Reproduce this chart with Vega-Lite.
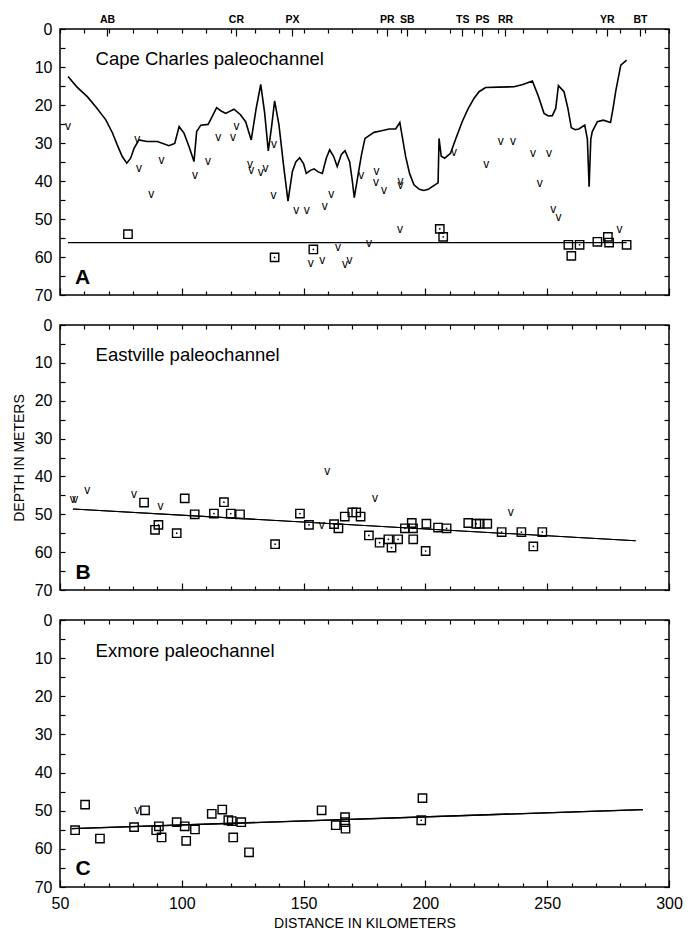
{
  "$schema": "https://vega.github.io/schema/vega-lite/v6.json",
  "background": "white",
  "padding": {"left": 11, "top": 10, "right": 5, "bottom": 0},
  "spacing": 12,
  "datasets": {
    "profileA": [
      {"km":53.3,"depth":12.5},{"km":57,"depth":15.3},{"km":61.2,"depth":17.8},{"km":65,"depth":20.7},{"km":68.8,"depth":23.9},
      {"km":71.5,"depth":27.3},{"km":73.5,"depth":30.5},{"km":75.5,"depth":33.5},{"km":77.4,"depth":35.3},{"km":79,"depth":34},
      {"km":80.4,"depth":31.4},{"km":82.4,"depth":29.2},{"km":85.8,"depth":29.6},{"km":90,"depth":29.6},{"km":94.7,"depth":30.7},
      {"km":97.1,"depth":30.1},{"km":98.9,"depth":25.7},{"km":100.9,"depth":27.4},{"km":103,"depth":31},{"km":105,"depth":34.9},
      {"km":106.1,"depth":27},{"km":107.8,"depth":25.3},{"km":110.8,"depth":25.1},{"km":112.5,"depth":23},{"km":114.3,"depth":20.7},
      {"km":116,"depth":21.5},{"km":118,"depth":22.2},{"km":121.4,"depth":21.1},{"km":124,"depth":22.5},{"km":126.2,"depth":24.4},
      {"km":128.5,"depth":29.2},{"km":130.5,"depth":21},{"km":132.4,"depth":14.6},{"km":134,"depth":22},{"km":135.5,"depth":32.1},
      {"km":136.8,"depth":26},{"km":138.1,"depth":18.9},{"km":139.9,"depth":25.3},{"km":141.8,"depth":36},{"km":143.6,"depth":45.3},
      {"km":145.4,"depth":37.5},{"km":146.8,"depth":35},{"km":148.4,"depth":33.9},{"km":150,"depth":35.5},{"km":151.1,"depth":38},
      {"km":152.8,"depth":37.2},{"km":154.3,"depth":36.8},{"km":156,"depth":37.6},{"km":157.7,"depth":38},{"km":159.3,"depth":34},
      {"km":160.7,"depth":31.8},{"km":162.3,"depth":33.5},{"km":163.8,"depth":36.2},{"km":165.5,"depth":33},{"km":167,"depth":32},
      {"km":168.9,"depth":34.9},{"km":170,"depth":40},{"km":170.8,"depth":44.4},{"km":172.7,"depth":37.1},{"km":173.8,"depth":33},
      {"km":175.2,"depth":28.8},{"km":178.9,"depth":27.2},{"km":182,"depth":26.8},{"km":185.1,"depth":26.3},{"km":187.8,"depth":26.3},
      {"km":189.5,"depth":24.6},{"km":191.9,"depth":33.6},{"km":193.5,"depth":38},{"km":195.3,"depth":41},{"km":197.5,"depth":42.2},
      {"km":199.4,"depth":42.5},{"km":201.2,"depth":42.2},{"km":202.8,"depth":41.5},{"km":205.2,"depth":40.5},{"km":205.6,"depth":28.8},
      {"km":206.5,"depth":33.5},{"km":207.9,"depth":34},{"km":210.3,"depth":32.7},{"km":212.7,"depth":28.5},{"km":215.1,"depth":24.4},
      {"km":217.5,"depth":21},{"km":220,"depth":18.2},{"km":222,"depth":16.5},{"km":224.7,"depth":15.4},{"km":230,"depth":15.3},
      {"km":236.4,"depth":15.2},{"km":240,"depth":14.6},{"km":243.9,"depth":13.7},{"km":246.2,"depth":17.4},{"km":248.7,"depth":22.2},
      {"km":250.5,"depth":22.9},{"km":252.1,"depth":22.8},{"km":253.5,"depth":20.9},{"km":254.6,"depth":14.9},{"km":256.9,"depth":16.5},
      {"km":258.5,"depth":20.9},{"km":259.9,"depth":26},{"km":261.5,"depth":26.5},{"km":263,"depth":26.3},{"km":265.4,"depth":25.3},
      {"km":266.5,"depth":29},{"km":267.2,"depth":41.5},{"km":267.9,"depth":29},{"km":268.5,"depth":27},{"km":270.6,"depth":24.4},
      {"km":273,"depth":24},{"km":276,"depth":24.6},{"km":277,"depth":21},{"km":278.1,"depth":16.5},{"km":280.2,"depth":9.5},
      {"km":282.6,"depth":8.2}
    ],
    "markers": [
      {"panel":"A","kind":"v","km":53.3,"depth":25.4},{"panel":"A","kind":"v","km":81.7,"depth":29},{"panel":"A","kind":"v","km":82.4,"depth":36.5},
      {"panel":"A","kind":"v","km":87.5,"depth":43.5},{"panel":"A","kind":"v","km":91.7,"depth":34.5},{"panel":"A","kind":"v","km":105.4,"depth":38.4},
      {"panel":"A","kind":"v","km":110.8,"depth":34.7},{"panel":"A","kind":"v","km":115,"depth":28.3},{"panel":"A","kind":"v","km":121,"depth":28.3},
      {"panel":"A","kind":"v","km":122.5,"depth":25.4},{"panel":"A","kind":"v","km":128,"depth":35.6},{"panel":"A","kind":"v","km":128.5,"depth":37},
      {"panel":"A","kind":"v","km":132.4,"depth":37.5},{"panel":"A","kind":"v","km":134.4,"depth":36.7},{"panel":"A","kind":"v","km":137.8,"depth":30.3},
      {"panel":"A","kind":"v","km":137.6,"depth":43.7},{"panel":"A","kind":"v","km":147,"depth":47.6},{"panel":"A","kind":"v","km":151.3,"depth":47.6},
      {"panel":"A","kind":"v","km":158.7,"depth":46.6},{"panel":"A","kind":"v","km":161.4,"depth":43.5},{"panel":"A","kind":"v","km":152.9,"depth":61.7},
      {"panel":"A","kind":"v","km":157.7,"depth":60.8},{"panel":"A","kind":"v","km":164.1,"depth":57.3},{"panel":"A","kind":"v","km":167,"depth":61.9},
      {"panel":"A","kind":"v","km":168.8,"depth":60.8},{"panel":"A","kind":"v","km":173.7,"depth":38.4},{"panel":"A","kind":"v","km":176.8,"depth":56.4},
      {"panel":"A","kind":"v","km":179.9,"depth":37.4},{"panel":"A","kind":"v","km":179.7,"depth":40.3},{"panel":"A","kind":"v","km":183,"depth":42.4},
      {"panel":"A","kind":"v","km":189.8,"depth":41},{"panel":"A","kind":"v","km":189.8,"depth":40},{"panel":"A","kind":"v","km":189.6,"depth":52.5},
      {"panel":"A","kind":"v","km":211.7,"depth":32.3},{"panel":"A","kind":"v","km":225,"depth":35.6},{"panel":"A","kind":"v","km":230.9,"depth":29.5},
      {"panel":"A","kind":"v","km":236,"depth":29.5},{"panel":"A","kind":"v","km":244.2,"depth":32.5},{"panel":"A","kind":"v","km":250.7,"depth":32.5},
      {"panel":"A","kind":"v","km":246.9,"depth":40.6},{"panel":"A","kind":"v","km":252.5,"depth":47.4},{"panel":"A","kind":"v","km":254.6,"depth":49.6},
      {"panel":"A","kind":"v","km":279.7,"depth":52.5},
      {"panel":"A","kind":"sq","dot":0,"km":77.9,"depth":54},{"panel":"A","kind":"sq","dot":1,"km":138.1,"depth":60.1},{"panel":"A","kind":"sq","dot":1,"km":154,"depth":58},
      {"panel":"A","kind":"sq","dot":1,"km":205.9,"depth":52.6},{"panel":"A","kind":"sq","dot":1,"km":207.3,"depth":54.7},{"panel":"A","kind":"sq","dot":0,"km":258.7,"depth":56.8},
      {"panel":"A","kind":"sq","dot":0,"km":259.9,"depth":59.7},{"panel":"A","kind":"sq","dot":1,"km":263.3,"depth":56.8},{"panel":"A","kind":"sq","dot":0,"km":270.6,"depth":56},
      {"panel":"A","kind":"sq","dot":0,"km":274.9,"depth":54.7},{"panel":"A","kind":"sq","dot":0,"km":275.4,"depth":56.2},{"panel":"A","kind":"sq","dot":0,"km":282.6,"depth":56.8},
      {"panel":"B","kind":"v","km":55.2,"depth":46},{"panel":"B","kind":"v","km":56.3,"depth":46},{"panel":"B","kind":"v","km":61.2,"depth":43.7},
      {"panel":"B","kind":"v","km":80.4,"depth":44.6},{"panel":"B","kind":"v","km":91.3,"depth":47.7},{"panel":"B","kind":"v","km":159.7,"depth":38.5},
      {"panel":"B","kind":"v","km":157.5,"depth":52.7},{"panel":"B","kind":"v","km":179.3,"depth":45.7},{"panel":"B","kind":"v","km":235,"depth":49.3},
      {"panel":"B","kind":"sq","dot":0,"km":84.5,"depth":46.9},{"panel":"B","kind":"sq","dot":1,"km":90.4,"depth":52.8},{"panel":"B","kind":"sq","dot":0,"km":89,"depth":54.1},
      {"panel":"B","kind":"sq","dot":1,"km":97.9,"depth":55},{"panel":"B","kind":"sq","dot":0,"km":101.2,"depth":45.8},{"panel":"B","kind":"sq","dot":0,"km":105.3,"depth":50},
      {"panel":"B","kind":"sq","dot":1,"km":113.2,"depth":49.8},{"panel":"B","kind":"sq","dot":1,"km":117.3,"depth":46.8},{"panel":"B","kind":"sq","dot":1,"km":120.1,"depth":49.8},
      {"panel":"B","kind":"sq","dot":0,"km":123.9,"depth":50},{"panel":"B","kind":"sq","dot":1,"km":138.3,"depth":57.9},{"panel":"B","kind":"sq","dot":1,"km":148.5,"depth":49.8},
      {"panel":"B","kind":"sq","dot":1,"km":152.2,"depth":52.8},{"panel":"B","kind":"sq","dot":1,"km":162.5,"depth":52.6},{"panel":"B","kind":"sq","dot":0,"km":164.3,"depth":53.7},
      {"panel":"B","kind":"sq","dot":0,"km":166.9,"depth":50.6},{"panel":"B","kind":"sq","dot":0,"km":170,"depth":49.5},{"panel":"B","kind":"sq","dot":0,"km":171.6,"depth":49.5},
      {"panel":"B","kind":"sq","dot":0,"km":173.4,"depth":50.6},{"panel":"B","kind":"sq","dot":1,"km":176.8,"depth":55.6},{"panel":"B","kind":"sq","dot":1,"km":181.2,"depth":57.5},
      {"panel":"B","kind":"sq","dot":1,"km":184.8,"depth":56.6},{"panel":"B","kind":"sq","dot":1,"km":186.1,"depth":58.8},{"panel":"B","kind":"sq","dot":1,"km":188.8,"depth":56.6},
      {"panel":"B","kind":"sq","dot":1,"km":191.6,"depth":53.7},{"panel":"B","kind":"sq","dot":0,"km":194.4,"depth":52.3},{"panel":"B","kind":"sq","dot":1,"km":194.9,"depth":53.7},
      {"panel":"B","kind":"sq","dot":0,"km":195,"depth":56.6},{"panel":"B","kind":"sq","dot":1,"km":200.1,"depth":59.7},{"panel":"B","kind":"sq","dot":0,"km":200.4,"depth":52.5},
      {"panel":"B","kind":"sq","dot":0,"km":205.2,"depth":53.5},{"panel":"B","kind":"sq","dot":1,"km":208.7,"depth":53.7},{"panel":"B","kind":"sq","dot":0,"km":217.6,"depth":52.3},
      {"panel":"B","kind":"sq","dot":1,"km":220.9,"depth":52.5},{"panel":"B","kind":"sq","dot":0,"km":222.3,"depth":52.5},{"panel":"B","kind":"sq","dot":0,"km":225.4,"depth":52.5},
      {"panel":"B","kind":"sq","dot":1,"km":231.3,"depth":54.7},{"panel":"B","kind":"sq","dot":1,"km":239.4,"depth":54.7},{"panel":"B","kind":"sq","dot":1,"km":248,"depth":54.7},
      {"panel":"B","kind":"sq","dot":1,"km":244.3,"depth":58.5},
      {"panel":"C","kind":"v","km":81.7,"depth":49.9},
      {"panel":"C","kind":"sq","dot":0,"km":56.2,"depth":55.1},{"panel":"C","kind":"sq","dot":0,"km":60.3,"depth":48.4},{"panel":"C","kind":"sq","dot":0,"km":66.4,"depth":57.3},
      {"panel":"C","kind":"sq","dot":0,"km":80.4,"depth":54.3},{"panel":"C","kind":"sq","dot":0,"km":84.9,"depth":49.9},{"panel":"C","kind":"sq","dot":0,"km":89.5,"depth":55.1},
      {"panel":"C","kind":"sq","dot":1,"km":90.6,"depth":54.1},{"panel":"C","kind":"sq","dot":0,"km":91.7,"depth":57},{"panel":"C","kind":"sq","dot":0,"km":97.9,"depth":53},
      {"panel":"C","kind":"sq","dot":0,"km":101.2,"depth":54.1},{"panel":"C","kind":"sq","dot":0,"km":101.8,"depth":57.9},{"panel":"C","kind":"sq","dot":0,"km":105.4,"depth":54.9},
      {"panel":"C","kind":"sq","dot":0,"km":112.3,"depth":50.8},{"panel":"C","kind":"sq","dot":0,"km":116.6,"depth":49.7},{"panel":"C","kind":"sq","dot":0,"km":119.1,"depth":52.5},
      {"panel":"C","kind":"sq","dot":0,"km":120.5,"depth":52.7},{"panel":"C","kind":"sq","dot":0,"km":121.1,"depth":57},{"panel":"C","kind":"sq","dot":0,"km":124.4,"depth":53},
      {"panel":"C","kind":"sq","dot":0,"km":127.6,"depth":60.9},{"panel":"C","kind":"sq","dot":0,"km":157.4,"depth":49.9},{"panel":"C","kind":"sq","dot":0,"km":163.2,"depth":53.8},
      {"panel":"C","kind":"sq","dot":0,"km":167,"depth":51.7},{"panel":"C","kind":"sq","dot":0,"km":167,"depth":53},{"panel":"C","kind":"sq","dot":0,"km":167.2,"depth":54.7},
      {"panel":"C","kind":"sq","dot":0,"km":198.8,"depth":46.7},{"panel":"C","kind":"sq","dot":1,"km":198.3,"depth":52.5}
    ],
    "trends": [
      {"panel":"A","km":53.3,"depth":56.2},{"panel":"A","km":282.6,"depth":56.2},
      {"panel":"B","km":55.3,"depth":48.6},{"panel":"B","km":286.3,"depth":57.0},
      {"panel":"C","km":54.8,"depth":54.7},{"panel":"C","km":289.3,"depth":49.7}
    ],
    "names": [
      {"panel":"A","km":64.6,"depth":8,"text":"Cape Charles paleochannel"},
      {"panel":"B","km":64.6,"depth":8,"text":"Eastville paleochannel"},
      {"panel":"C","km":64.6,"depth":8,"text":"Exmore paleochannel"}
    ],
    "letters": [
      {"panel":"A","km":56.2,"depth":65.5,"text":"A"},
      {"panel":"B","km":56.4,"depth":65.4,"text":"B"},
      {"panel":"C","km":56.4,"depth":65.2,"text":"C"}
    ]
  },
  "vconcat": [
    {
      "width": 609, "height": 266,
      "resolve": {"axis": {"x": "independent", "y": "independent"}},
      "layer": [
        {"data": {"name": "profileA"}, "mark": {"type": "line", "color": "black", "strokeWidth": 1.6},
         "encoding": {
           "x": {"field": "km", "type": "quantitative", "scale": {"domain": [50, 300], "nice": false},
                 "axis": {"orient": "bottom", "values": [50,60,70,80,90,100,110,120,130,140,150,160,170,180,190,200,210,220,230,240,250,260,270,280,290,300], "labels": false, "title": null,
                          "tickSize": {"condition": {"test": "datum.value % 50 === 0", "value": -7}, "value": -4}}},
           "y": {"field": "depth", "type": "quantitative", "scale": {"domain": [0, 70], "reverse": true, "nice": false},
                 "axis": {"orient": "left", "values": [0,5,10,15,20,25,30,35,40,45,50,55,60,65,70], "labelExpr": "datum.value % 10 === 0 ? datum.label : ''",
                          "tickSize": -5, "labelPadding": 13, "labelOverlap": false, "labelFlush": false, "title": "DEPTH IN METERS", "titleOpacity": 0, "titlePadding": 8}}
         }},
        {"data": {"name": "trends"}, "transform": [{"filter": "datum.panel === 'A'"}],
         "mark": {"type": "line", "color": "black", "strokeWidth": 1.3},
         "encoding": {
           "x": {"field": "km", "type": "quantitative", "scale": {"domain": [50, 300], "nice": false},
                 "axis": {"orient": "top", "values": [50,60,70,80,90,100,110,120,130,140,150,160,170,180,190,200,210,220,230,240,250,260,270,280,290,300,69.3,122.2,145.2,184.2,192.4,215.1,223.2,232.7,274.5,288.1],
                          "labelExpr": "datum.value == 69.3 ? 'AB' : datum.value == 122.2 ? 'CR' : datum.value == 145.2 ? 'PX' : datum.value == 184.2 ? 'PR' : datum.value == 192.4 ? 'SB' : datum.value == 215.1 ? 'TS' : datum.value == 223.2 ? 'PS' : datum.value == 232.7 ? 'RR' : datum.value == 274.5 ? 'YR' : datum.value == 288.1 ? 'BT' : ''",
                          "labelFontSize": 10.5, "labelFontWeight": "bold", "labelPadding": 12, "labelOverlap": false, "labelFlush": false, "title": null,
                          "tickSize": {"condition": {"test": "datum.value % 10 !== 0", "value": -7}, "value": -4}}},
           "y": {"field": "depth", "type": "quantitative", "scale": {"domain": [0, 70], "reverse": true, "nice": false},
                 "axis": {"orient": "right", "values": [0,5,10,15,20,25,30,35,40,45,50,55,60,65,70], "labels": false, "tickSize": -5, "title": null}}
         }},
        {"data": {"name": "markers"}, "transform": [{"filter": "datum.panel === 'A' && datum.kind === 'v'"}],
         "mark": {"type": "text", "text": "v", "fontSize": 12, "color": "black", "baseline": "middle"},
         "encoding": {"x": {"field": "km", "type": "quantitative", "axis": null}, "y": {"field": "depth", "type": "quantitative", "axis": null}}},
        {"data": {"name": "markers"}, "transform": [{"filter": "datum.panel === 'A' && datum.kind === 'sq'"}],
         "mark": {"type": "point", "shape": "square", "size": 70, "filled": false, "color": "black", "strokeWidth": 1.4, "opacity": 1},
         "encoding": {"x": {"field": "km", "type": "quantitative", "axis": null}, "y": {"field": "depth", "type": "quantitative", "axis": null}}},
        {"data": {"name": "markers"}, "transform": [{"filter": "datum.panel === 'A' && datum.kind === 'sq' && datum.dot === 1"}],
         "mark": {"type": "point", "shape": "circle", "size": 3, "filled": true, "color": "black", "opacity": 1},
         "encoding": {"x": {"field": "km", "type": "quantitative", "axis": null}, "y": {"field": "depth", "type": "quantitative", "axis": null}}},
        {"data": {"name": "names"}, "transform": [{"filter": "datum.panel === 'A'"}],
         "mark": {"type": "text", "align": "left", "baseline": "middle", "fontSize": 18.5, "color": "black"},
         "encoding": {"x": {"field": "km", "type": "quantitative", "axis": null}, "y": {"field": "depth", "type": "quantitative", "axis": null}, "text": {"field": "text"}}},
        {"data": {"name": "letters"}, "transform": [{"filter": "datum.panel === 'A'"}],
         "mark": {"type": "text", "align": "left", "baseline": "middle", "fontSize": 21, "fontWeight": "bold", "color": "black"},
         "encoding": {"x": {"field": "km", "type": "quantitative", "axis": null}, "y": {"field": "depth", "type": "quantitative", "axis": null}, "text": {"field": "text"}}}
      ]
    },
    {
      "width": 609, "height": 265,
      "resolve": {"axis": {"x": "independent", "y": "independent"}},
      "layer": [
        {"data": {"name": "trends"}, "transform": [{"filter": "datum.panel === 'B'"}],
         "mark": {"type": "line", "color": "black", "strokeWidth": 1.1},
         "encoding": {
           "x": {"field": "km", "type": "quantitative", "scale": {"domain": [50, 300], "nice": false},
                 "axis": {"orient": "bottom", "values": [50,60,70,80,90,100,110,120,130,140,150,160,170,180,190,200,210,220,230,240,250,260,270,280,290,300], "labels": false, "title": null,
                          "tickSize": {"condition": {"test": "datum.value % 50 === 0", "value": -7}, "value": -4}}},
           "y": {"field": "depth", "type": "quantitative", "scale": {"domain": [0, 70], "reverse": true, "nice": false},
                 "axis": {"orient": "left", "values": [0,5,10,15,20,25,30,35,40,45,50,55,60,65,70], "labelExpr": "datum.value % 10 === 0 ? datum.label : ''",
                          "tickSize": -5, "labelPadding": 13, "labelOverlap": false, "labelFlush": false, "title": "DEPTH IN METERS", "titlePadding": 8}}
         }},
        {"data": {"name": "trends"}, "transform": [{"filter": "datum.panel === 'B'"}],
         "mark": {"type": "line", "color": "black", "strokeWidth": 1.1},
         "encoding": {
           "x": {"field": "km", "type": "quantitative", "scale": {"domain": [50, 300], "nice": false},
                 "axis": {"orient": "top", "values": [50,60,70,80,90,100,110,120,130,140,150,160,170,180,190,200,210,220,230,240,250,260,270,280,290,300], "labels": false, "title": null, "tickSize": -4}},
           "y": {"field": "depth", "type": "quantitative", "scale": {"domain": [0, 70], "reverse": true, "nice": false},
                 "axis": {"orient": "right", "values": [0,5,10,15,20,25,30,35,40,45,50,55,60,65,70], "labels": false, "tickSize": -5, "title": null}}
         }},
        {"data": {"name": "markers"}, "transform": [{"filter": "datum.panel === 'B' && datum.kind === 'v'"}],
         "mark": {"type": "text", "text": "v", "fontSize": 12, "color": "black", "baseline": "middle"},
         "encoding": {"x": {"field": "km", "type": "quantitative", "axis": null}, "y": {"field": "depth", "type": "quantitative", "axis": null}}},
        {"data": {"name": "markers"}, "transform": [{"filter": "datum.panel === 'B' && datum.kind === 'sq'"}],
         "mark": {"type": "point", "shape": "square", "size": 70, "filled": false, "color": "black", "strokeWidth": 1.4, "opacity": 1},
         "encoding": {"x": {"field": "km", "type": "quantitative", "axis": null}, "y": {"field": "depth", "type": "quantitative", "axis": null}}},
        {"data": {"name": "markers"}, "transform": [{"filter": "datum.panel === 'B' && datum.kind === 'sq' && datum.dot === 1"}],
         "mark": {"type": "point", "shape": "circle", "size": 3, "filled": true, "color": "black", "opacity": 1},
         "encoding": {"x": {"field": "km", "type": "quantitative", "axis": null}, "y": {"field": "depth", "type": "quantitative", "axis": null}}},
        {"data": {"name": "names"}, "transform": [{"filter": "datum.panel === 'B'"}],
         "mark": {"type": "text", "align": "left", "baseline": "middle", "fontSize": 18.5, "color": "black"},
         "encoding": {"x": {"field": "km", "type": "quantitative", "axis": null}, "y": {"field": "depth", "type": "quantitative", "axis": null}, "text": {"field": "text"}}},
        {"data": {"name": "letters"}, "transform": [{"filter": "datum.panel === 'B'"}],
         "mark": {"type": "text", "align": "left", "baseline": "middle", "fontSize": 21, "fontWeight": "bold", "color": "black"},
         "encoding": {"x": {"field": "km", "type": "quantitative", "axis": null}, "y": {"field": "depth", "type": "quantitative", "axis": null}, "text": {"field": "text"}}}
      ]
    },
    {
      "width": 609, "height": 267,
      "resolve": {"axis": {"x": "independent", "y": "independent"}},
      "layer": [
        {"data": {"name": "trends"}, "transform": [{"filter": "datum.panel === 'C'"}],
         "mark": {"type": "line", "color": "black", "strokeWidth": 1.3},
         "encoding": {
           "x": {"field": "km", "type": "quantitative", "scale": {"domain": [50, 300], "nice": false},
                 "axis": {"orient": "bottom", "values": [50,60,70,80,90,100,110,120,130,140,150,160,170,180,190,200,210,220,230,240,250,260,270,280,290,300],
                          "labelExpr": "datum.value % 50 === 0 ? datum.label : ''", "labelPadding": 15, "labelOverlap": false, "labelFlush": false,
                          "title": "DISTANCE IN KILOMETERS", "titlePadding": 2,
                          "tickSize": {"condition": {"test": "datum.value % 50 === 0", "value": -7}, "value": -4}}},
           "y": {"field": "depth", "type": "quantitative", "scale": {"domain": [0, 70], "reverse": true, "nice": false},
                 "axis": {"orient": "left", "values": [0,5,10,15,20,25,30,35,40,45,50,55,60,65,70], "labelExpr": "datum.value % 10 === 0 ? datum.label : ''",
                          "tickSize": -5, "labelPadding": 13, "labelOverlap": false, "labelFlush": false, "title": "DEPTH IN METERS", "titleOpacity": 0, "titlePadding": 8}}
         }},
        {"data": {"name": "trends"}, "transform": [{"filter": "datum.panel === 'C'"}],
         "mark": {"type": "line", "color": "black", "strokeWidth": 1.3},
         "encoding": {
           "x": {"field": "km", "type": "quantitative", "scale": {"domain": [50, 300], "nice": false},
                 "axis": {"orient": "top", "values": [50,60,70,80,90,100,110,120,130,140,150,160,170,180,190,200,210,220,230,240,250,260,270,280,290,300], "labels": false, "title": null, "tickSize": -4}},
           "y": {"field": "depth", "type": "quantitative", "scale": {"domain": [0, 70], "reverse": true, "nice": false},
                 "axis": {"orient": "right", "values": [0,5,10,15,20,25,30,35,40,45,50,55,60,65,70], "labels": false, "tickSize": -5, "title": null}}
         }},
        {"data": {"name": "markers"}, "transform": [{"filter": "datum.panel === 'C' && datum.kind === 'v'"}],
         "mark": {"type": "text", "text": "v", "fontSize": 12, "color": "black", "baseline": "middle"},
         "encoding": {"x": {"field": "km", "type": "quantitative", "axis": null}, "y": {"field": "depth", "type": "quantitative", "axis": null}}},
        {"data": {"name": "markers"}, "transform": [{"filter": "datum.panel === 'C' && datum.kind === 'sq'"}],
         "mark": {"type": "point", "shape": "square", "size": 70, "filled": false, "color": "black", "strokeWidth": 1.4, "opacity": 1},
         "encoding": {"x": {"field": "km", "type": "quantitative", "axis": null}, "y": {"field": "depth", "type": "quantitative", "axis": null}}},
        {"data": {"name": "markers"}, "transform": [{"filter": "datum.panel === 'C' && datum.kind === 'sq' && datum.dot === 1"}],
         "mark": {"type": "point", "shape": "circle", "size": 3, "filled": true, "color": "black", "opacity": 1},
         "encoding": {"x": {"field": "km", "type": "quantitative", "axis": null}, "y": {"field": "depth", "type": "quantitative", "axis": null}}},
        {"data": {"name": "names"}, "transform": [{"filter": "datum.panel === 'C'"}],
         "mark": {"type": "text", "align": "left", "baseline": "middle", "fontSize": 18.5, "color": "black"},
         "encoding": {"x": {"field": "km", "type": "quantitative", "axis": null}, "y": {"field": "depth", "type": "quantitative", "axis": null}, "text": {"field": "text"}}},
        {"data": {"name": "letters"}, "transform": [{"filter": "datum.panel === 'C'"}],
         "mark": {"type": "text", "align": "left", "baseline": "middle", "fontSize": 21, "fontWeight": "bold", "color": "black"},
         "encoding": {"x": {"field": "km", "type": "quantitative", "axis": null}, "y": {"field": "depth", "type": "quantitative", "axis": null}, "text": {"field": "text"}}}
      ]
    }
  ],
  "config": {
    "font": "Liberation Sans",
    "view": {"stroke": "black", "strokeWidth": 1.5},
    "axis": {"domain": false, "grid": false, "tickColor": "black", "tickWidth": 1.2, "labelColor": "black", "labelFontSize": 16, "labelFont": "Liberation Sans",
             "titleColor": "black", "titleFontWeight": "normal", "titleFontSize": 14, "titleFont": "Liberation Sans"}
  }
}
